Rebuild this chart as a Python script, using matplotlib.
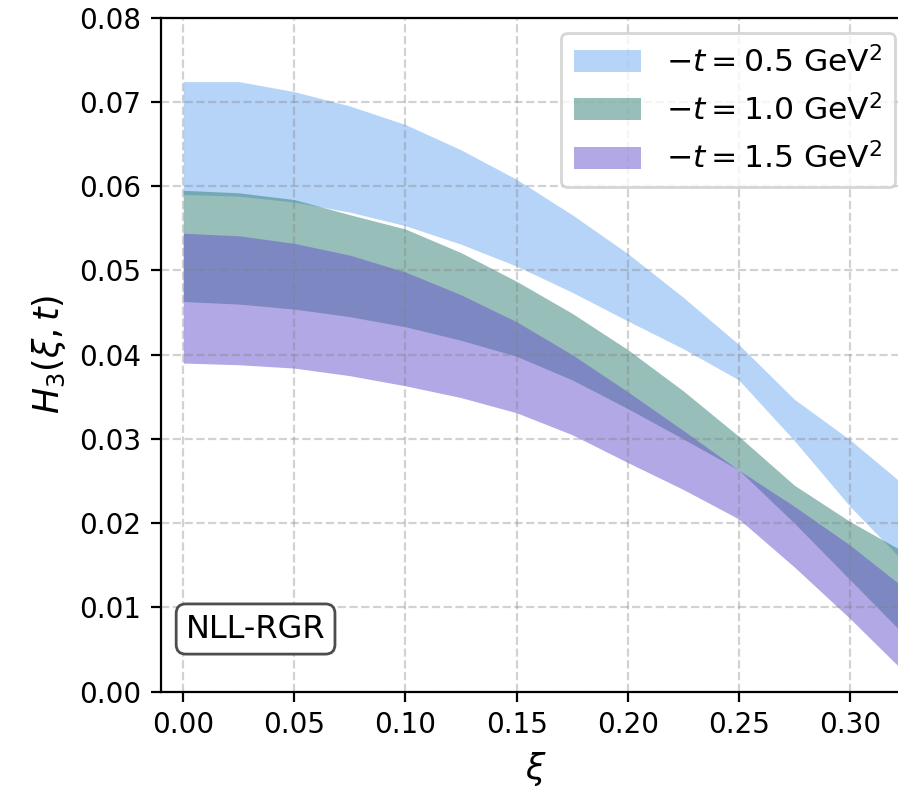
import numpy as np
import matplotlib.pyplot as plt

# ───── data (band edges of H3) ─────
xi = [0.000, 0.025, 0.050, 0.075, 0.100, 0.125, 0.150,
      0.175, 0.200, 0.225, 0.250, 0.275, 0.300, 0.325]

# -t = 0.5 GeV^2
h05_hi = [0.0724, 0.0724, 0.0712, 0.0695, 0.0673, 0.0643, 0.0608,
          0.0566, 0.0520, 0.0468, 0.0412, 0.0347, 0.0299, 0.0244]
h05_lo = [0.0590, 0.0588, 0.0581, 0.0569, 0.0553, 0.0531, 0.0505,
          0.0474, 0.0440, 0.0407, 0.0370, 0.0298, 0.0220, 0.0152]
# -t = 1.0 GeV^2
h10_hi = [0.0595, 0.0592, 0.0584, 0.0566, 0.0549, 0.0521, 0.0487,
          0.0449, 0.0406, 0.0357, 0.0303, 0.0245, 0.0202, 0.0165]
h10_lo = [0.0463, 0.0460, 0.0454, 0.0445, 0.0433, 0.0417, 0.0398,
          0.0370, 0.0336, 0.0300, 0.0263, 0.0200, 0.0133, 0.0066]
# -t = 1.5 GeV^2
h15_hi = [0.0544, 0.0541, 0.0532, 0.0518, 0.0498, 0.0471, 0.0439,
          0.0400, 0.0356, 0.0310, 0.0263, 0.0220, 0.0174, 0.0122]
h15_lo = [0.0390, 0.0388, 0.0384, 0.0375, 0.0363, 0.0349, 0.0331,
          0.0305, 0.0272, 0.0240, 0.0205, 0.0148, 0.0087, 0.0022]

labels = [r'$-t = 0.5\ \mathrm{GeV}^2\;$',
          r'$-t = 1.0\ \mathrm{GeV}^2\;$',
          r'$-t = 1.5\ \mathrm{GeV}^2\;$']
colors = ['#6fabf3', '#317f75', '#6553cd']

# ───── figure ─────
fig = plt.figure(figsize=(4.49, 3.945), dpi=200)
ax = fig.add_axes([0.1793, 0.1233, 1.0145 - 0.1793, 0.9778 - 0.1233])

bands = [(h05_lo, h05_hi), (h10_lo, h10_hi), (h15_lo, h15_hi)]
for (lo, hi), c, lab in zip(bands, colors, labels):
    ax.fill_between(xi, lo, hi, color=c, alpha=0.5, lw=0, label=lab)

ax.set_xlim(-0.010, 0.3275)
ax.set_ylim(0.0, 0.08)
ax.set_xticks(np.arange(0, 0.301, 0.05))
ax.set_yticks(np.arange(0, 0.0801, 0.01))
ax.tick_params(labelsize=10)

ax.grid(True, ls='--', lw=0.8, color='gray', alpha=0.35)

ax.set_xlabel(r'$\xi$', fontsize=12.5)
ax.set_ylabel(r'$H_3(\xi, t)$', fontsize=12.5)

ax.legend(loc='upper right', fontsize=11.3, handlelength=2.15)

ax.text(0.033, 0.07, 'NLL-RGR', transform=ax.transAxes, fontsize=11.5,
        ha='left', va='bottom',
        bbox=dict(boxstyle='round', facecolor='white', edgecolor='0.3'))

fig.savefig('out.png', dpi=200)
